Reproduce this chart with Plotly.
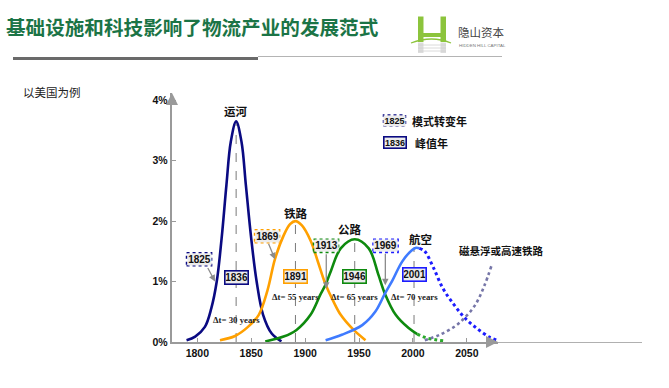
import plotly.graph_objects as go

# ---------------- data ----------------
canal_years = [1790, 1798, 1807, 1813, 1818, 1822.5, 1827, 1831, 1836, 1841, 1845, 1850, 1855, 1861, 1869, 1878]
canal_vals = [0.03, 0.09, 0.25, 0.56, 1.0, 1.71, 2.6, 3.31, 3.65, 3.31, 2.6, 1.71, 1.0, 0.45, 0.14, 0.01]

rail_years = [1821, 1835, 1847, 1857, 1865, 1872, 1880, 1886, 1891, 1897, 1905, 1912, 1919, 1926, 1933, 1945, 1956]
rail_vals = [0.03, 0.1, 0.25, 0.45, 0.85, 1.37, 1.76, 1.95, 2.0, 1.93, 1.68, 1.32, 0.95, 0.68, 0.45, 0.2, 0.03]

road_years = [1863, 1880, 1892, 1905, 1914, 1919, 1924, 1933, 1946, 1959, 1968, 1974, 1984, 1996, 2004]
road_vals = [0.01, 0.09, 0.2, 0.45, 0.78, 0.95, 1.18, 1.55, 1.70, 1.55, 1.11, 0.8, 0.45, 0.23, 0.13]
road_tail_years = [2004, 2012, 2020, 2028]
road_tail_vals = [0.13, 0.07, 0.04, 0.02]

air_years = [1919, 1934, 1953, 1965, 1974, 1981, 1990, 1999, 2003, 2006]
air_vals = [0.03, 0.12, 0.28, 0.5, 0.8, 1.02, 1.33, 1.52, 1.56, 1.55]
air_fcst_years = [2006, 2011, 2019, 2028, 2038, 2048, 2059, 2071, 2078]
air_fcst_vals = [1.55, 1.5, 1.23, 0.88, 0.62, 0.4, 0.23, 0.08, 0.03]

maglev_years = [2011, 2025, 2039, 2048, 2058, 2066, 2073]
maglev_vals = [0.03, 0.12, 0.26, 0.4, 0.62, 0.92, 1.27]

mode_names = ["运河", "铁路", "公路", "航空"]
peak_years = [1836, 1891, 1946, 2001]
peak_vals = [3.65, 2.0, 1.70, 1.56]
shift_years = [1825, 1869, 1913, 1969]
delta_years = [30, 55, 65, 70]
future_name = "磁悬浮或高速铁路"

x_ticks = [1800, 1850, 1900, 1950, 2000, 2050]
y_ticks = [0, 1, 2, 3, 4]
y_tick_text = ["0%", "1%", "2%", "3%", "4%"]

title_text = "基础设施和科技影响了物流产业的发展范式"
subtitle_text = "以美国为例"
legend_texts = ["模式转变年", "峰值年"]

# ---------------- layout geometry ----------------
W, H = 669, 388
PL, PR, PT, PB = 172, 498, 93, 342      # plot area in pixels
PW, PH = PR - PL, PB - PT
X_RANGE = [1776.5, 2078.9]
Y_RANGE = [0, 4.12]


def fx(p):
    return (p - PL) / PW


def fy(p):
    return (PB - p) / PH


NAVY = "#0A0A82"
ORANGE = "#FFA000"
GREEN = "#0E8A0E"
BLUE = "#3F7BFF"
BLUE_D = "#1C1CFF"
GREEN_D = "#2BA82B"
MAG = "#7676A8"
CJK = "Noto Sans CJK SC"
NUMF = "Liberation Sans Narrow, Arial Narrow, Liberation Sans, Arial"
SERIF = "Liberation Serif, Times New Roman, serif"

fig = go.Figure()

solid_w = 2.6
fig.add_trace(go.Scatter(x=canal_years, y=canal_vals, mode="lines",
                         line=dict(color=NAVY, width=solid_w, shape="spline", smoothing=1.0)))
fig.add_trace(go.Scatter(x=rail_years, y=rail_vals, mode="lines",
                         line=dict(color=ORANGE, width=solid_w, shape="spline", smoothing=1.0)))
fig.add_trace(go.Scatter(x=road_years, y=road_vals, mode="lines",
                         line=dict(color=GREEN, width=solid_w, shape="spline", smoothing=1.0)))
fig.add_trace(go.Scatter(x=road_tail_years, y=road_tail_vals, mode="lines",
                         line=dict(color=GREEN_D, width=3, dash="dot", shape="spline")))
fig.add_trace(go.Scatter(x=air_years, y=air_vals, mode="lines",
                         line=dict(color=BLUE, width=solid_w, shape="spline", smoothing=1.0)))
fig.add_trace(go.Scatter(x=air_fcst_years, y=air_fcst_vals, mode="lines",
                         line=dict(color=BLUE_D, width=3, dash="dot", shape="spline")))
fig.add_trace(go.Scatter(x=maglev_years, y=maglev_vals, mode="lines",
                         line=dict(color=MAG, width=2.6, dash="dot", shape="spline")))

shapes = []
annotations = []


def ann(**kw):
    kw.setdefault("xanchor", "center")
    kw.setdefault("yanchor", "middle")
    kw.setdefault("showarrow", False)
    annotations.append(kw)


# dashed peak lines
for yr, v in zip(peak_years, peak_vals):
    shapes.append(dict(type="line", xref="x", yref="y", x0=yr, x1=yr, y0=0, y1=v,
                       line=dict(color="#7a7a7a", width=1, dash="dash"), layer="below"))

colors = [NAVY, ORANGE, GREEN, BLUE_D]
name_pos = [(1835.5, 3.83), (1891.5, 2.13), (1941.7, 1.87), (2006.8, 1.70)]
for name, (xx, yy) in zip(mode_names, name_pos):
    ann(x=xx, y=yy, xref="x", yref="y", text=name,
        font=dict(family=CJK, size=11.5, color="#111", weight="bold"))

# peak year boxes
peak_box_y = [1.07, 1.09, 1.09, 1.11]
for yr, c, yy in zip(peak_years, colors, peak_box_y):
    ann(x=yr, y=yy, xref="x", yref="y", text=str(yr),
        width=22, height=12, bgcolor="#ECECEC", bordercolor=c, borderwidth=1.6,
        borderpad=0, font=dict(family=NUMF, size=10, color="#111", weight="bold"))

# delta-t texts
dt_pos = [(1836.5, 0.36), (1891, 0.75), (1946, 0.75), (2001, 0.75)]
for d, (xx, yy) in zip(delta_years, dt_pos):
    ann(x=xx, y=yy, xref="x", yref="y", text="Δt= %d years" % d,
        font=dict(family=SERIF, size=8.8, color="#222", weight="bold"))

# transition year (dotted) boxes with arrows
shift_pos = [(1801.6, 1.37), (1864.7, 1.75), (1919.4, 1.59), (1974.6, 1.59)]
arrow_heads = [(1816.4, 1.0, -8, -15), (1872, 1.37, -7, -17), (1919.6, 0.88, 0, -36), (1974.4, 0.94, 0, -33)]
for yr, c, (xx, yy), (hx, hy, ax, ay) in zip(shift_years, colors, shift_pos, arrow_heads):
    ann(x=hx, y=hy, xref="x", yref="y", ax=ax, ay=ay, text="", showarrow=True,
        arrowhead=2, arrowsize=1, arrowwidth=1.3, arrowcolor="#8c8c8c")
    ann(x=xx, y=yy, xref="x", yref="y", text=str(yr),
        width=23, height=11, bgcolor="#ECECEC", borderpad=0,
        font=dict(family=NUMF, size=10, color="#111", weight="bold"))
    shapes.append(dict(type="rect", xref="x", yref="y", xsizemode="pixel", ysizemode="pixel",
                       xanchor=xx, yanchor=yy, x0=-12.5, x1=12.5, y0=-6.5, y1=6.5,
                       line=dict(color=c, width=1.6, dash="dot")))

# future mode label (outside plot -> paper coords)
ann(x=fx(501.5), y=fy(250), xref="paper", yref="paper", text=future_name,
    font=dict(family=CJK, size=10.5, color="#111", weight="bold"))

# legend
ann(x=fx(394.5), y=fy(120.5), xref="paper", yref="paper", text=str(shift_years[0]),
    width=21, height=10, bgcolor="#ECECEC", borderpad=0,
    font=dict(family=NUMF, size=9, color="#111", weight="bold"))
shapes.append(dict(type="rect", xref="paper", yref="paper", x0=fx(383.5), x1=fx(405.5),
                   y0=fy(126), y1=fy(115), line=dict(color=NAVY, width=1.5, dash="dot")))
ann(x=fx(394.5), y=fy(142.5), xref="paper", yref="paper", text=str(peak_years[0]),
    width=21, height=10, bgcolor="#ECECEC", bordercolor=NAVY,
    borderwidth=1.6, borderpad=0,
    font=dict(family=NUMF, size=9, color="#111", weight="bold"))
ann(x=fx(410), y=fy(120.5), xref="paper", yref="paper", text=legend_texts[0], xanchor="left",
    font=dict(family=CJK, size=11, color="#111", weight="bold"))
ann(x=fx(413), y=fy(142.5), xref="paper", yref="paper", text=legend_texts[1], xanchor="left",
    font=dict(family=CJK, size=11, color="#111", weight="bold"))

# axis arrows
ann(x=X_RANGE[1], y=0, xref="x", yref="y", ax=-10, ay=0, text="", showarrow=True,
    arrowhead=2, arrowsize=1, arrowwidth=2.4, arrowcolor="#9a9a9a")
ann(x=X_RANGE[0], y=Y_RANGE[1], xref="x", yref="y", ax=0, ay=10, text="", showarrow=True,
    arrowhead=2, arrowsize=1, arrowwidth=2.4, arrowcolor="#9a9a9a")
shapes.append(dict(type="line", xref="paper", yref="paper", x0=fx(498), x1=fx(642), y0=fy(342.5), y1=fy(342.5),
                   line=dict(color="#b0b0b0", width=1.2)))

# header: title, subtitle, underline, logo
ann(x=fx(4), y=fy(26), xref="paper", yref="paper", text=title_text, xanchor="left",
    font=dict(family=CJK, size=19.6, color="#1B7446", weight="bold"))
ann(x=fx(21), y=fy(92), xref="paper", yref="paper", text=subtitle_text, xanchor="left",
    font=dict(family=CJK, size=11.5, color="#222"))
shapes.append(dict(type="line", xref="paper", yref="paper", x0=fx(13), x1=fx(258), y0=fy(58.5), y1=fy(58.5),
                   line=dict(color="#6a6a6a", width=3)))
shapes.append(dict(type="line", xref="paper", yref="paper", x0=fx(258), x1=fx(502), y0=fy(56.5), y1=fy(56.5),
                   line=dict(color="#b4b4b4", width=1)))
LOGO_G = "#8CC43C"
for x0, x1, y0, y1 in [(418, 423.5, 16.5, 42), (440.5, 446, 16.5, 42), (418, 446, 33, 37)]:
    shapes.append(dict(type="rect", xref="paper", yref="paper", x0=fx(x0), x1=fx(x1), y0=fy(y1), y1=fy(y0),
                       fillcolor=LOGO_G, line=dict(width=0)))
for x0, x1 in [(418, 423.5), (440.5, 446)]:
    shapes.append(dict(type="rect", xref="paper", yref="paper", x0=fx(x0), x1=fx(x1), y0=fy(53), y1=fy(42.5),
                       fillcolor="#cfcfcf", line=dict(width=0), opacity=0.7))
for yy in [45, 48, 51]:
    shapes.append(dict(type="line", xref="paper", yref="paper", x0=fx(418), x1=fx(446), y0=fy(yy), y1=fy(yy),
                       line=dict(color="#d0d0d0", width=0.8)))
shapes.append(dict(type="path", xref="paper", yref="paper",
                   path="M %f,%f Q %f,%f %f,%f" % (fx(411), fy(43), fx(432), fy(35), fx(451), fy(43)),
                   line=dict(color=LOGO_G, width=1.3)))
ann(x=fx(456), y=fy(32), xref="paper", yref="paper", text="隐山资本", xanchor="left",
    font=dict(family=CJK, size=11.5, color="#444"))
ann(x=fx(457), y=fy(45.5), xref="paper", yref="paper", text="HIDDEN HILL CAPITAL", xanchor="left",
    font=dict(family="Liberation Sans", size=4.4, color="#777"))

fig.update_layout(
    width=W, height=H, autosize=False,
    margin=dict(l=PL, r=W - PR, t=PT, b=H - PB, pad=0),
    paper_bgcolor="white", plot_bgcolor="white",
    showlegend=False, hovermode=False,
    shapes=shapes, annotations=annotations,
    xaxis=dict(range=X_RANGE, showgrid=False, zeroline=False, showline=True, linecolor="#9a9a9a",
               linewidth=2.4, ticks="inside", ticklen=4, tickwidth=1, tickcolor="#9a9a9a",
               tickvals=x_ticks, tickfont=dict(family=NUMF, size=10.5, color="#111", weight="bold"),
               fixedrange=True),
    yaxis=dict(range=Y_RANGE, showgrid=False, zeroline=False, showline=True, linecolor="#9a9a9a",
               linewidth=2.4, ticks="inside", ticklen=4, tickwidth=1, tickcolor="#9a9a9a",
               tickvals=y_ticks, ticktext=y_tick_text,
               tickfont=dict(family=NUMF, size=10.5, color="#111", weight="bold"), fixedrange=True),
)

fig.write_html("out.html", config={"displayModeBar": False},
               post_script="document.body.style.margin='0px';document.body.style.overflow='hidden';")
